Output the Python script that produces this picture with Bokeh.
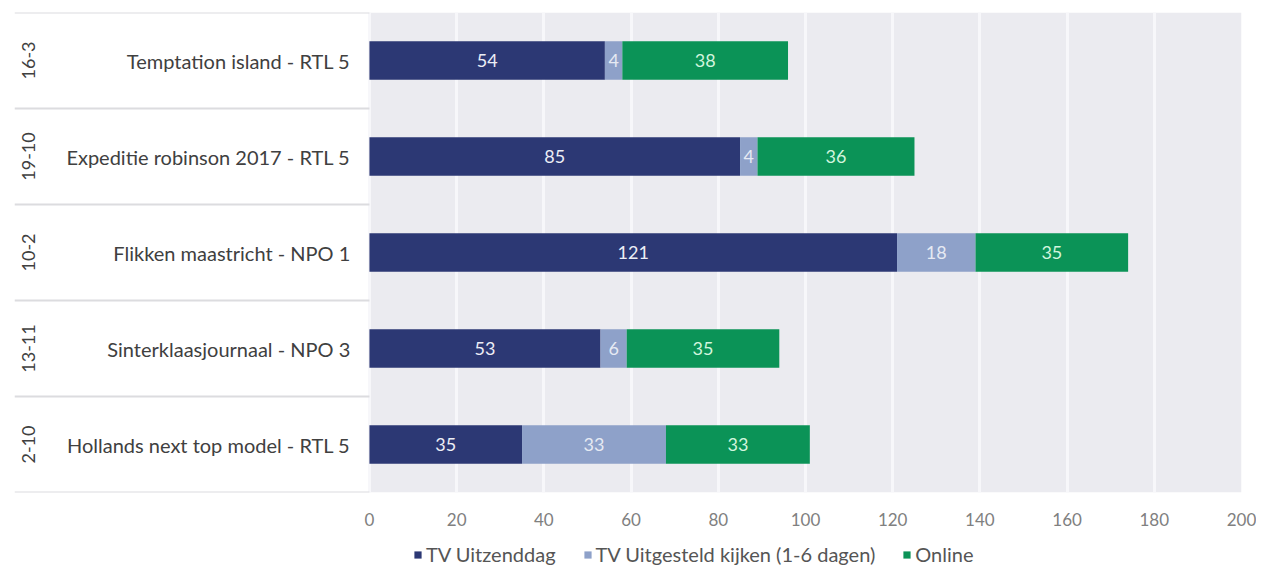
import numpy as np
from bokeh.plotting import figure
from bokeh.layouts import column
from bokeh.models import Range1d, FixedTicker, BoxAnnotation, Legend, LegendItem, ColumnDataSource
from bokeh.core.properties import value
from bokeh.embed import file_html
from bokeh.resources import INLINE

# ---- data ----
dates = ["16-3", "19-10", "10-2", "13-11", "2-10"]
programmes = [
    "Temptation island - RTL 5",
    "Expeditie robinson 2017 - RTL 5",
    "Flikken maastricht - NPO 1",
    "Sinterklaasjournaal - NPO 3",
    "Hollands next top model - RTL 5",
]
tv_uitzenddag = [54, 85, 121, 53, 35]
tv_uitgesteld = [4, 4, 18, 6, 33]
online = [38, 36, 35, 35, 33]
series_names = ["TV Uitzenddag", "TV Uitgesteld kijken (1-6 dagen)", "Online"]
x_ticks = [0, 20, 40, 60, 80, 100, 120, 140, 160, 180, 200]

# ---- styles ----
colors = ["#2c3874", "#8ea1c9", "#0b9357"]
label_colors = ["#eceef6", "#e6eaf3", "#d2f5de"]
FONT = "Lato"
W = 1256

n = len(programmes)
ypos = np.array([n - i - 0.5 for i in range(n)])
a = np.array(tv_uitzenddag, dtype=float)
b = np.array(tv_uitgesteld, dtype=float)
c = np.array(online, dtype=float)
lefts = [np.zeros(n), a, a + b]
rights = [a, a + b, a + b + c]
vals = [a, b, c]

X_LEFT = -81.4
p = figure(width=W, height=537, output_backend="svg", toolbar_location=None,
           x_range=Range1d(X_LEFT, 200), y_range=Range1d(0, n),
           min_border_left=14, min_border_right=15, min_border_top=12, min_border_bottom=45)
p.background_fill_color = "white"
p.border_fill_color = "white"
p.outline_line_color = None

p.add_layout(BoxAnnotation(left=0, right=200, bottom=0, top=n, fill_color="#ebebf0",
                           fill_alpha=1.0, line_color=None, level="image"))

p.xgrid.ticker = FixedTicker(ticks=x_ticks)
p.xgrid.bounds = (0, 200)
p.xgrid.grid_line_color = "#f7f7fa"
p.xgrid.grid_line_width = 3
p.xgrid.level = "underlay"
p.ygrid.visible = False
p.yaxis.visible = False

ax = p.xaxis[0]
ax.ticker = FixedTicker(ticks=x_ticks)
ax.axis_line_color = None
ax.major_tick_line_color = None
ax.minor_tick_line_color = None
ax.major_tick_out = 0
ax.major_tick_in = 0
ax.major_label_text_font = FONT
ax.major_label_text_font_size = "17px"
ax.major_label_text_color = "#808080"
ax.major_label_standoff = 20

# separator lines in the left label panel
bounds_y = list(range(n + 1))
p.segment(x0=[X_LEFT] * len(bounds_y), x1=[0] * len(bounds_y), y0=bounds_y, y1=bounds_y,
          line_color="#dcdcdf", line_width=2)

for k in range(3):
    src = ColumnDataSource(dict(y=ypos, left=lefts[k], right=rights[k]))
    p.hbar(y="y", left="left", right="right", height=0.4, source=src,
           fill_color=colors[k], line_color=None)
    mid = (lefts[k] + rights[k]) / 2
    p.text(x=mid, y=ypos, text=[str(int(v)) for v in vals[k]], text_align="center",
           text_baseline="middle", text_font=value(FONT), text_font_size="18px",
           text_color=label_colors[k])

# programme labels
p.text(x=[-4.4] * n, y=ypos, text=programmes, text_align="right", text_baseline="middle",
       text_font=value(FONT), text_font_size="20px", text_color="#404040")
# date labels (rotated)
p.text(x=[-78.3] * n, y=ypos, text=dates, angle=np.pi / 2, text_align="center",
       text_baseline="middle", text_font=value(FONT), text_font_size="18px",
       text_color="#404040")

# ---- legend strip ----
p2 = figure(width=W, height=32, output_backend="svg", toolbar_location=None,
            x_range=Range1d(0, 1), y_range=Range1d(0, 1),
            min_border_left=0, min_border_right=0, min_border_top=0, min_border_bottom=0)
p2.axis.visible = False
p2.grid.visible = False
p2.outline_line_color = None
p2.background_fill_color = "white"
p2.border_fill_color = "white"
leg_renderers = []
for k in range(3):
    # legend swatches only: a single point placed outside the visible range
    r = p2.hbar(y=[-10], left=[0], right=[1], height=0.4, fill_color=colors[k], line_color=None)
    leg_renderers.append(r)

legend = Legend(items=[LegendItem(label=series_names[k], renderers=[leg_renderers[k]]) for k in range(3)],
                orientation="horizontal", location=(399, 3),
                label_text_font=FONT, label_text_font_size="20px", label_text_color="#555555",
                glyph_width=9, glyph_height=9, spacing=27, label_standoff=4,
                padding=2, margin=0, border_line_color=None, background_fill_alpha=0)
p2.add_layout(legend, "center")

open("out.html", "w").write(file_html(column(p, p2, spacing=0), INLINE))
